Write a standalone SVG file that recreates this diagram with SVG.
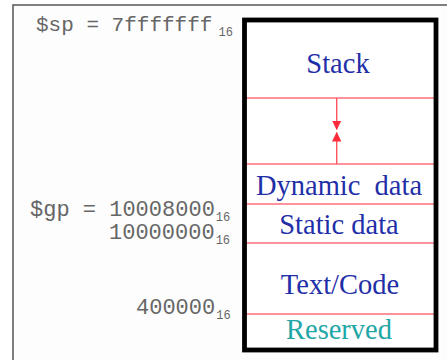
<svg xmlns="http://www.w3.org/2000/svg" width="447" height="360" viewBox="0 0 447 360">
<style>
.addr{font-family:"Liberation Mono","DejaVu Sans Mono",monospace;font-size:22px;fill:#666666}
.sub{font-size:12px}
.lbl{font-family:"Liberation Serif","DejaVu Serif",serif;font-size:28.5px;fill:#1f2fa8;text-anchor:middle}
.res{fill:#1fa6a6}
.div{stroke:#ff6f7c;stroke-width:1.4;fill:none}
.conn{stroke:#ff5560;stroke-width:1.4;fill:none}
</style>
<defs>
<marker id="ah" markerUnits="userSpaceOnUse" markerWidth="10" markerHeight="10" viewBox="0 0 10 10" refX="9" refY="5" orient="auto">
<path d="M0,0.3 L9.5,5 L0,9.7 Z" fill="#ff2a3a"/>
</marker>
</defs>
<rect x="0" y="0" width="447" height="360" fill="#ffffff"/>
<rect x="13" y="5" width="440" height="365" fill="#fdfdfd" stroke="#555555" stroke-width="1.5"/>
<g id="addresses">
<text class="addr" x="36" y="31" style="font-size:21px">$sp = 7fffffff<tspan class="sub" dx="6" dy="5">16</tspan></text>
<text class="addr" x="30" y="216">$gp = 10008000<tspan class="sub" dx="1" dy="5">16</tspan></text>
<text class="addr" x="109" y="239">10000000<tspan class="sub" dx="1" dy="5">16</tspan></text>
<text class="addr" x="136" y="314">400000<tspan class="sub" dx="1" dy="5">16</tspan></text>
</g>
<rect x="244.5" y="20" width="191.5" height="330" fill="#ffffff"/>
<g id="stack">
<text class="lbl" x="338" y="73">Stack</text>
<line class="div" x1="246" y1="98" x2="434" y2="98"/>
</g>
<g id="free">
<line class="div" x1="246" y1="164" x2="434" y2="164"/>
</g>
<g id="dynamic">
<text class="lbl" x="339" y="195" xml:space="preserve">Dynamic  data</text>
<line class="div" x1="246" y1="204" x2="434" y2="204"/>
</g>
<g id="static">
<text class="lbl" x="339" y="234">Static data</text>
<line class="div" x1="246" y1="243" x2="434" y2="243"/>
</g>
<g id="text">
<text class="lbl" x="340" y="294">Text/Code</text>
<line class="div" x1="246" y1="314" x2="434" y2="314"/>
</g>
<g id="reserved">
<text class="lbl res" x="339" y="339">Reserved</text>
</g>
<g id="connectors">
<line class="conn" x1="336.7" y1="98" x2="336.7" y2="129.5" marker-end="url(#ah)"/>
<line class="conn" x1="336.7" y1="164" x2="336.7" y2="132.5" marker-end="url(#ah)"/>
</g>
<rect x="244.5" y="20" width="191.5" height="330" fill="none" stroke="#000000" stroke-width="4.8"/>
</svg>
